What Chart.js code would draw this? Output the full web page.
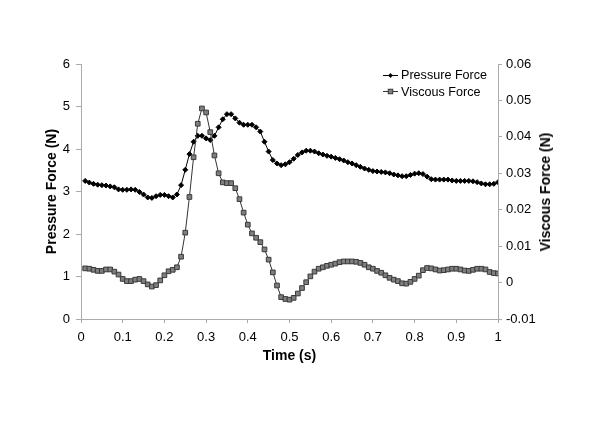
<!DOCTYPE html>
<html>
<head>
<meta charset="utf-8">
<script src="https://cdn.jsdelivr.net/npm/chart.js@4.4.0/dist/chart.umd.min.js"></script>
<style>
  body { margin: 0; background: #fff; }
  #wrap { position: relative; width: 600px; height: 424px; font-family: "Liberation Sans", Arial, sans-serif; }
  #legend { position: absolute; left: 383px; top: 67px; font-size: 12.6px; color: #000; }
  .row { display: flex; align-items: center; height: 16.6px; }
  .row svg { margin-right: 3px; }
  #rightTitle {
    position: absolute; left: 545px; top: 192px; font-weight: bold; font-size: 14px;
    white-space: nowrap; transform: translate(-50%, -50%) rotate(-90deg);
  }
</style>
</head>
<body>
<div id="wrap">
  <canvas id="chart" width="600" height="424"></canvas>
  <div id="legend"></div>
  <div id="rightTitle">Viscous Force (N)</div>
</div>
<script>
const seriesNames = ["Pressure Force", "Viscous Force"];

const times = [0.01,0.02,0.03,0.04,0.05,0.06,0.07,0.08,0.09,0.10,
  0.11,0.12,0.13,0.14,0.15,0.16,0.17,0.18,0.19,0.20,
  0.21,0.22,0.23,0.24,0.25,0.26,0.27,0.28,0.29,0.30,
  0.31,0.32,0.33,0.34,0.35,0.36,0.37,0.38,0.39,0.40,
  0.41,0.42,0.43,0.44,0.45,0.46,0.47,0.48,0.49,0.50,
  0.51,0.52,0.53,0.54,0.55,0.56,0.57,0.58,0.59,0.60,
  0.61,0.62,0.63,0.64,0.65,0.66,0.67,0.68,0.69,0.70,
  0.71,0.72,0.73,0.74,0.75,0.76,0.77,0.78,0.79,0.80,
  0.81,0.82,0.83,0.84,0.85,0.86,0.87,0.88,0.89,0.90,
  0.91,0.92,0.93,0.94,0.95,0.96,0.97,0.98,0.99,1.00];

// Pressure force (N), left axis
const pressure = [3.25,3.21,3.18,3.16,3.15,3.14,3.12,3.10,3.05,3.04,
  3.04,3.05,3.04,2.99,2.93,2.86,2.85,2.89,2.92,2.92,
  2.89,2.86,2.93,3.15,3.51,3.88,4.17,4.31,4.31,4.25,
  4.21,4.31,4.51,4.70,4.82,4.82,4.72,4.62,4.57,4.57,
  4.57,4.51,4.41,4.17,3.94,3.74,3.66,3.62,3.64,3.69,
  3.77,3.86,3.92,3.96,3.96,3.94,3.90,3.87,3.84,3.82,
  3.79,3.76,3.73,3.69,3.66,3.62,3.58,3.54,3.51,3.48,
  3.47,3.46,3.45,3.43,3.40,3.38,3.36,3.36,3.39,3.42,
  3.43,3.41,3.35,3.29,3.28,3.28,3.28,3.28,3.26,3.25,
  3.25,3.25,3.25,3.24,3.22,3.19,3.17,3.17,3.18,3.22];

// Viscous force (N), right axis
const viscous = [0.0039,0.0038,0.0035,0.0032,0.0032,0.0036,0.0036,0.0030,0.0022,0.0010,
  0.0004,0.0004,0.0008,0.0010,0.0004,-0.0005,-0.0011,-0.0007,0.0006,0.0020,
  0.0031,0.0035,0.0042,0.0071,0.0137,0.0235,0.0344,0.0436,0.0478,0.0467,
  0.0413,0.0349,0.0300,0.0275,0.0273,0.0273,0.0259,0.0229,0.0192,0.0159,
  0.0135,0.0123,0.0111,0.0091,0.0063,0.0028,-0.0008,-0.0040,-0.0045,-0.0047,
  -0.0042,-0.0030,-0.0015,0.0001,0.0017,0.0030,0.0038,0.0042,0.0046,0.0049,
  0.0052,0.0056,0.0058,0.0058,0.0058,0.0057,0.0054,0.0049,0.0042,0.0038,
  0.0032,0.0027,0.0020,0.0013,0.0008,0.0004,-0.0002,-0.0003,0.0002,0.0010,
  0.0019,0.0034,0.0040,0.0039,0.0036,0.0033,0.0034,0.0036,0.0038,0.0038,
  0.0036,0.0033,0.0032,0.0035,0.0038,0.0038,0.0036,0.0029,0.0026,0.0025];

const axisGray = '#ababab';
const font = { family: '"Liberation Sans", Arial, sans-serif', size: 13 };
const titleFont = { family: '"Liberation Sans", Arial, sans-serif', size: 14, weight: 'bold' };

function pairs(ys) {
  return ys.map((y, i) => ({ x: times[i], y: y }));
}

const ctx = document.getElementById('chart');
new Chart(ctx, {
  type: 'line',
  data: {
    datasets: [
      {
        label: seriesNames[0],
        data: pairs(pressure),
        yAxisID: 'y',
        borderColor: '#000',
        borderWidth: 1,
        pointStyle: 'rectRot',
        pointRadius: 2.5,
        pointBackgroundColor: '#000',
        pointBorderColor: '#000',
        pointBorderWidth: 1,
        tension: 0,
        order: 1
      },
      {
        label: seriesNames[1],
        data: pairs(viscous),
        yAxisID: 'y2',
        borderColor: '#333',
        borderWidth: 1,
        pointStyle: 'rect',
        pointRadius: 3.3,
        pointBackgroundColor: '#7f7f7f',
        pointBorderColor: '#3a3a3a',
        pointBorderWidth: 1,
        tension: 0,
        order: 0
      }
    ]
  },
  options: {
    responsive: false,
    animation: false,
    devicePixelRatio: 1,
    layout: { padding: { top: 64, left: 0, right: 0, bottom: 0 } },
    plugins: { legend: { display: false }, tooltip: { enabled: false } },
    scales: {
      x: {
        type: 'linear',
        min: 0, max: 1,
        border: { color: axisGray },
        grid: { drawOnChartArea: false, color: axisGray, tickLength: 4 },
        ticks: { stepSize: 0.1, color: '#000', font: font, padding: 7,
          maxRotation: 0,
          callback: v => String(Number(v.toFixed(1))) },
        title: { display: true, text: 'Time (s)', color: '#000', font: titleFont,
          padding: { top: 0, bottom: 59 } },
        afterFit: s => { s.height = 105; }
      },
      y: {
        position: 'left',
        min: 0, max: 6,
        border: { color: axisGray },
        grid: { drawOnChartArea: false, color: axisGray, tickLength: 5 },
        ticks: { stepSize: 1, color: '#000', font: font, padding: 6 },
        title: { display: true, text: 'Pressure Force (N)', color: '#000', font: titleFont,
          padding: { top: 44, bottom: 0 } },
        afterFit: s => { s.width = 81; }
      },
      y2: {
        position: 'right',
        min: -0.01, max: 0.06,
        border: { color: axisGray },
        grid: { drawOnChartArea: false, color: axisGray, tickLength: 4 },
        ticks: { stepSize: 0.01, color: '#000', font: font, padding: 4,
          callback: v => String(Number(v.toFixed(2))) },
        afterFit: s => { s.width = 102; }
      }
    }
  }
});

// legend built from the series names, placed inside the plot like the original
const legend = document.getElementById('legend');
const symbols = [
  '<svg width="15" height="9"><line x1="0" y1="4.5" x2="15" y2="4.5" stroke="#000" stroke-width="1"/><rect x="5.8" y="2.8" width="3.4" height="3.4" fill="#000" transform="rotate(45 7.5 4.5)"/></svg>',
  '<svg width="15" height="9"><line x1="0" y1="4.5" x2="15" y2="4.5" stroke="#333" stroke-width="1"/><rect x="5.25" y="2.25" width="4.5" height="4.5" fill="#7f7f7f" stroke="#3a3a3a" stroke-width="1"/></svg>'
];
seriesNames.forEach((name, i) => {
  const row = document.createElement('div');
  row.className = 'row';
  row.innerHTML = symbols[i] + '<span>' + name + '</span>';
  legend.appendChild(row);
});
</script>
</body>
</html>
